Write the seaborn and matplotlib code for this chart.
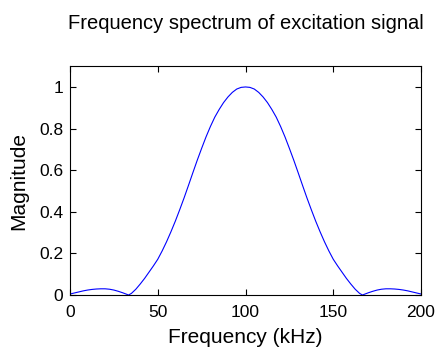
import numpy as np
import pandas as pd
import matplotlib
matplotlib.use("Agg")
import matplotlib.pyplot as plt
import seaborn as sns

# values (kHz, normalised magnitude)
freq_khz = [0, 2.5, 5, 7.5, 10, 12.5, 15, 17.5, 20, 22.5, 25, 27.5, 30, 32.5, 33.3,
            35, 37.5, 40, 42.5, 45, 47.5, 50, 52.5, 55, 57.5, 60, 62.5, 65, 67.5, 70,
            72.5, 75, 77.5, 80, 82.5, 85, 87.5, 90, 92.5, 95, 97.5, 100,
            102.5, 105, 107.5, 110, 112.5, 115, 117.5, 120, 122.5, 125, 127.5, 130,
            132.5, 135, 137.5, 140, 142.5, 145, 147.5, 150, 152.5, 155, 157.5, 160, 162.5, 165,
            166.7, 167.5, 170, 172.5, 175, 177.5, 180, 182.5, 185, 187.5, 190, 192.5, 195, 197.5, 200]
magnitude = [0.005, 0.010, 0.015, 0.020, 0.024, 0.027, 0.029, 0.030, 0.030, 0.028, 0.024, 0.018, 0.011, 0.003, 0.0,
             0.008, 0.028, 0.053, 0.080, 0.110, 0.140, 0.172, 0.212, 0.256, 0.304, 0.355, 0.410, 0.467, 0.527, 0.588,
             0.648, 0.705, 0.760, 0.810, 0.855, 0.892, 0.925, 0.952, 0.974, 0.990, 0.998, 1.0,
             0.998, 0.990, 0.974, 0.952, 0.925, 0.892, 0.855, 0.810, 0.760, 0.705, 0.648, 0.588,
             0.527, 0.467, 0.410, 0.355, 0.304, 0.256, 0.212, 0.172, 0.140, 0.110, 0.080, 0.053, 0.028, 0.008,
             0.0, 0.003, 0.011, 0.018, 0.024, 0.028, 0.030, 0.030, 0.029, 0.027, 0.024, 0.020, 0.015, 0.010, 0.005]

df = pd.DataFrame({"Frequency": freq_khz, "Magnitude": magnitude})

sns.set_style("ticks")
plt.rcParams['font.family'] = ['Liberation Sans', 'DejaVu Sans']
plt.rcParams['xtick.direction'] = 'in'
plt.rcParams['ytick.direction'] = 'in'
plt.rcParams['text.color'] = 'black'
plt.rcParams['axes.labelcolor'] = 'black'

fig = plt.figure(figsize=(4.39, 3.5), dpi=100)
ax = fig.add_axes([0.1595, 0.157, 0.7995, 0.654])
sns.lineplot(data=df, x="Frequency", y="Magnitude", color="#0000ff", linewidth=0.8, ax=ax)

ax.set_xlim(0, 200)
ax.set_ylim(0, 1.1)
ax.set_xticks([0, 50, 100, 150, 200])
ax.set_yticks([0, 0.2, 0.4, 0.6, 0.8, 1.0])
ax.set_yticklabels(["0", "0.2", "0.4", "0.6", "0.8", "1"])
ax.tick_params(top=True, right=True, length=4, width=0.8, labelsize=12.5, colors="black", pad=5)
ax.tick_params(axis="x", pad=7)
for s in ax.spines.values():
    s.set_visible(True)
    s.set_linewidth(0.8)
    s.set_color("black")

ax.set_xlabel("Frequency (kHz)", fontsize=15, labelpad=6)
ax.set_ylabel("Magnitude", fontsize=15, labelpad=8)
ax.set_title("Frequency spectrum of excitation signal", fontsize=14.5, pad=27, color="black")

fig.savefig("out.png", dpi=100)
